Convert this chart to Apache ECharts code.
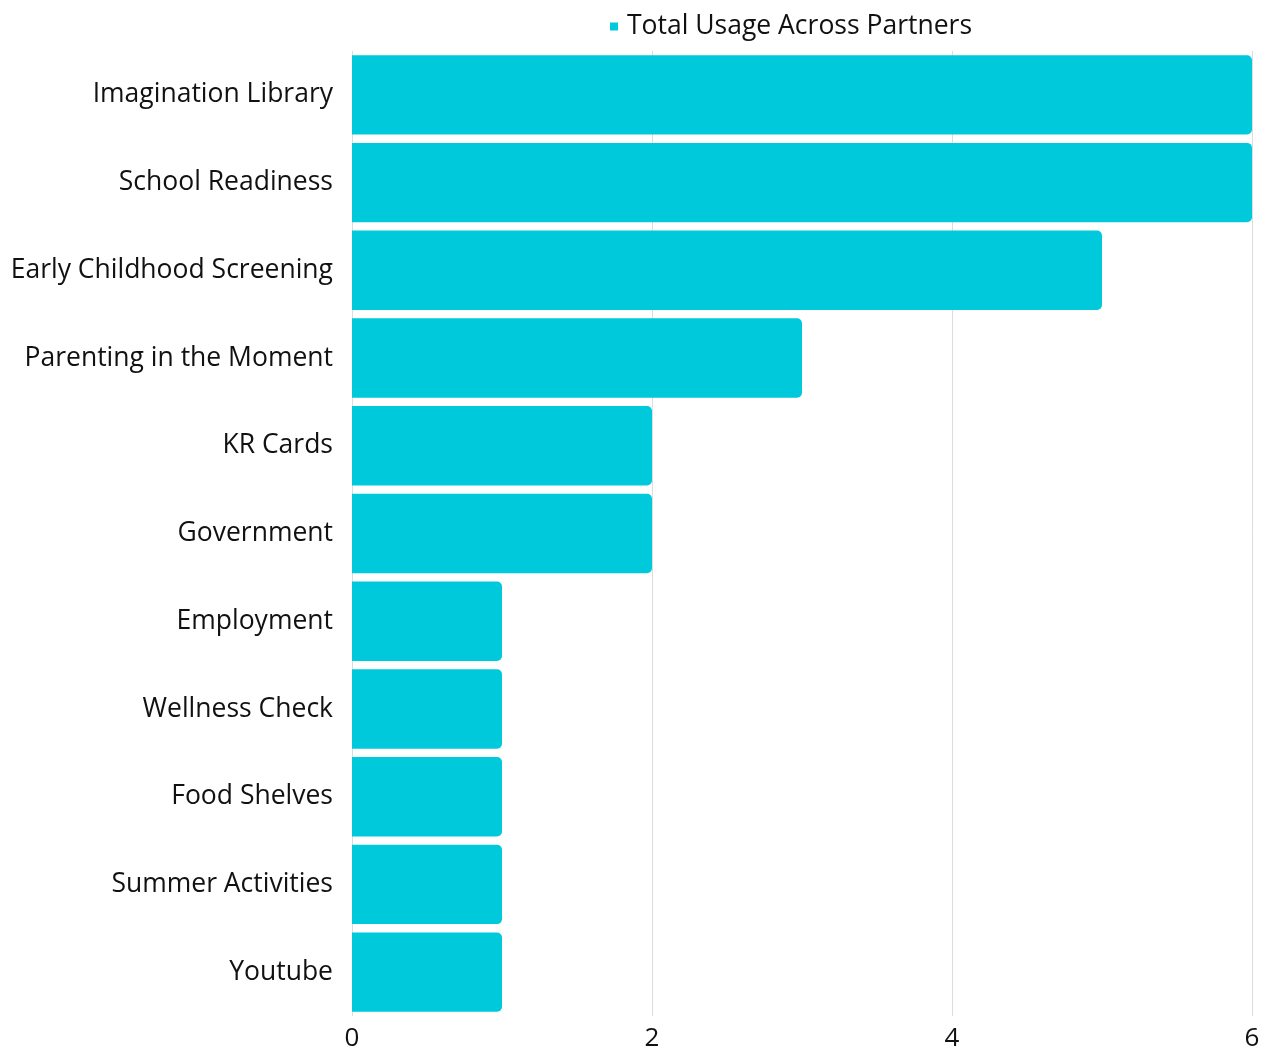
<!DOCTYPE html>
<html>
<head>
<meta charset="utf-8">
<script src="https://cdn.jsdelivr.net/npm/echarts@6/dist/echarts.min.js"></script>
<style>
  html, body { margin: 0; padding: 0; background: #fff; }
  #chart { width: 1271px; height: 1053px; }
</style>
</head>
<body>
<div id="chart"></div>
<script>
// Programs and how many partners use each one
const categories = [
  'Imagination Library',
  'School Readiness',
  'Early Childhood Screening',
  'Parenting in the Moment',
  'KR Cards',
  'Government',
  'Employment',
  'Wellness Check',
  'Food Shelves',
  'Summer Activities',
  'Youtube'
];
const usage = [6, 6, 5, 3, 2, 2, 1, 1, 1, 1, 1];
const xTicks = [0, 2, 4, 6];
const seriesName = 'Total Usage Across Partners';

const font = '"Open Sans", "Noto Sans", sans-serif';
const chart = echarts.init(document.getElementById('chart'), null, { renderer: 'canvas' });

chart.setOption({
  animation: false,
  textStyle: { fontFamily: font },
  legend: {
    data: [seriesName],
    left: 605,
    top: 8,
    icon: 'rect',
    itemWidth: 8,
    itemHeight: 8,
    itemGap: 10,
    textStyle: { fontSize: 26.5, color: '#111', fontFamily: font, padding: [0, 0, 0, 4] }
  },
  grid: { left: 352, right: 19, top: 51, bottom: 37, containLabel: false },
  xAxis: {
    type: 'value',
    min: xTicks[0],
    max: xTicks[xTicks.length - 1],
    interval: 2,
    axisLine: { show: false },
    axisTick: { show: false },
    splitLine: { show: true, lineStyle: { color: '#dcdcdc', width: 1 } },
    axisLabel: { fontSize: 26, color: '#111', margin: 10, fontFamily: font }
  },
  yAxis: {
    type: 'category',
    data: categories,
    inverse: true,
    axisLine: { show: false },
    axisTick: { show: false },
    axisLabel: { fontSize: 26.5, color: '#111', margin: 19, fontFamily: font, padding: [4, 0, 0, 0] }
  },
  series: [{
    name: seriesName,
    type: 'bar',
    data: usage,
    barCategoryGap: '9.5%',
    itemStyle: { color: '#00c9db', borderRadius: [0, 5, 5, 0] }
  }]
});
</script>
</body>
</html>
